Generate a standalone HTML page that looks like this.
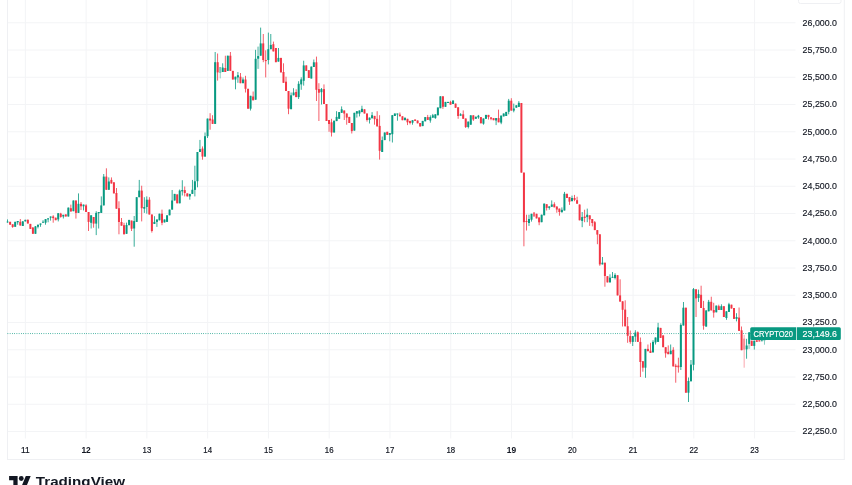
<!DOCTYPE html>
<html lang="en"><head><meta charset="utf-8"><title>CRYPTO20 chart</title>
<style>html,body{margin:0;padding:0;background:#fff;overflow:hidden}body{width:852px;height:485px}svg{display:block;will-change:transform}text{font-family:"Liberation Sans", Arial, sans-serif}</style>
</head><body>
<svg width="852" height="485" viewBox="0 0 852 485">
<rect width="852" height="485" fill="#fff"/>
<path d="M25.35 0V438.5M86.12 0V438.5M146.89 0V438.5M207.66 0V438.5M268.43 0V438.5M329.20 0V438.5M389.97 0V438.5M450.74 0V438.5M511.51 0V438.5M572.28 0V438.5M633.05 0V438.5M693.82 0V438.5M754.59 0V438.5M7.5 22.75H795.5M7.5 50.00H795.5M7.5 77.25H795.5M7.5 104.50H795.5M7.5 131.75H795.5M7.5 159.00H795.5M7.5 186.25H795.5M7.5 213.50H795.5M7.5 240.75H795.5M7.5 268.00H795.5M7.5 295.25H795.5M7.5 322.50H795.5M7.5 349.75H795.5M7.5 377.00H795.5M7.5 404.25H795.5M7.5 431.50H795.5" stroke="#f3f4f6" stroke-width="1" fill="none"/>
<path d="M7.5 0V459.5M7 459.5H844.8M844.3 0V459.5" stroke="#eff0f3" stroke-width="1" fill="none"/>
<rect x="798.5" y="-6" width="42.5" height="9.5" rx="2" fill="#fff" stroke="#eff0f3" stroke-width="1"/>
<path d="M7.5 333.55H796" stroke="#089981" stroke-width="0.9" stroke-dasharray="0.75 1.5" fill="none"/>
<g fill="#089981"><rect x="7.20" y="219.40" width="0.80" height="3.30"/><rect x="6.60" y="221.60" width="2.00" height="0.80"/></g>
<g fill="#f23645"><rect x="9.73" y="221.80" width="0.80" height="2.90"/><rect x="9.13" y="221.80" width="2.00" height="2.90"/></g>
<g fill="#f23645"><rect x="12.26" y="224.30" width="0.80" height="3.50"/><rect x="11.66" y="224.30" width="2.00" height="2.70"/></g>
<g fill="#089981"><rect x="14.79" y="221.80" width="0.80" height="5.00"/><rect x="14.19" y="221.80" width="2.00" height="5.00"/></g>
<g fill="#089981"><rect x="17.32" y="221.00" width="0.80" height="3.70"/><rect x="16.72" y="221.00" width="2.00" height="1.30"/></g>
<g fill="#f23645"><rect x="19.86" y="219.00" width="0.80" height="6.50"/><rect x="19.26" y="221.80" width="2.00" height="3.70"/></g>
<g fill="#089981"><rect x="22.39" y="221.00" width="0.80" height="5.00"/><rect x="21.79" y="221.40" width="2.00" height="4.60"/></g>
<g fill="#089981"><rect x="24.92" y="219.80" width="0.80" height="1.60"/><rect x="24.32" y="219.80" width="2.00" height="1.60"/></g>
<g fill="#f23645"><rect x="27.45" y="219.50" width="0.80" height="4.00"/><rect x="26.85" y="219.80" width="2.00" height="3.70"/></g>
<g fill="#f23645"><rect x="29.98" y="223.90" width="0.80" height="5.00"/><rect x="29.38" y="223.90" width="2.00" height="5.00"/></g>
<g fill="#f23645"><rect x="32.51" y="227.00" width="0.80" height="6.80"/><rect x="31.91" y="227.60" width="2.00" height="6.20"/></g>
<g fill="#089981"><rect x="35.04" y="226.00" width="0.80" height="7.80"/><rect x="34.44" y="226.40" width="2.00" height="7.40"/></g>
<g fill="#089981"><rect x="37.57" y="224.70" width="0.80" height="3.70"/><rect x="36.97" y="224.70" width="2.00" height="2.10"/></g>
<g fill="#089981"><rect x="40.10" y="223.50" width="0.80" height="3.30"/><rect x="39.50" y="223.50" width="2.00" height="1.20"/></g>
<g fill="#089981"><rect x="42.63" y="220.20" width="0.80" height="2.50"/><rect x="42.03" y="221.80" width="2.00" height="0.90"/></g>
<g fill="#089981"><rect x="45.17" y="219.10" width="0.80" height="5.60"/><rect x="44.57" y="219.10" width="2.00" height="3.60"/></g>
<g fill="#089981"><rect x="47.70" y="218.30" width="0.80" height="4.00"/><rect x="47.10" y="218.30" width="2.00" height="1.10"/></g>
<g fill="#089981"><rect x="50.23" y="216.50" width="0.80" height="4.10"/><rect x="49.63" y="216.50" width="2.00" height="1.20"/></g>
<g fill="#f23645"><rect x="52.76" y="215.20" width="0.80" height="7.50"/><rect x="52.16" y="216.50" width="2.00" height="1.60"/></g>
<g fill="#f23645"><rect x="55.29" y="217.70" width="0.80" height="2.50"/><rect x="54.69" y="217.70" width="2.00" height="2.50"/></g>
<g fill="#089981"><rect x="57.82" y="213.20" width="0.80" height="8.20"/><rect x="57.22" y="213.20" width="2.00" height="6.20"/></g>
<g fill="#f23645"><rect x="60.35" y="212.80" width="0.80" height="4.90"/><rect x="59.75" y="213.60" width="2.00" height="3.30"/></g>
<g fill="#089981"><rect x="62.88" y="214.80" width="0.80" height="3.70"/><rect x="62.28" y="214.80" width="2.00" height="1.70"/></g>
<g fill="#f23645"><rect x="65.41" y="214.40" width="0.80" height="2.10"/><rect x="64.81" y="214.40" width="2.00" height="2.10"/></g>
<g fill="#089981"><rect x="67.94" y="207.60" width="0.80" height="8.90"/><rect x="67.34" y="207.60" width="2.00" height="8.90"/></g>
<g fill="#f23645"><rect x="70.47" y="204.60" width="0.80" height="6.90"/><rect x="69.88" y="208.20" width="2.00" height="3.30"/></g>
<g fill="#089981"><rect x="73.01" y="200.50" width="0.80" height="10.70"/><rect x="72.41" y="200.50" width="2.00" height="10.70"/></g>
<g fill="#f23645"><rect x="75.54" y="200.50" width="0.80" height="18.10"/><rect x="74.94" y="200.50" width="2.00" height="12.40"/></g>
<g fill="#089981"><rect x="78.07" y="193.40" width="0.80" height="19.50"/><rect x="77.47" y="203.80" width="2.00" height="9.10"/></g>
<g fill="#f23645"><rect x="80.60" y="202.00" width="0.80" height="8.00"/><rect x="80.00" y="203.80" width="2.00" height="2.50"/></g>
<g fill="#089981"><rect x="83.13" y="204.60" width="0.80" height="5.80"/><rect x="82.53" y="204.60" width="2.00" height="1.70"/></g>
<g fill="#f23645"><rect x="85.66" y="204.20" width="0.80" height="7.80"/><rect x="85.06" y="205.40" width="2.00" height="6.60"/></g>
<g fill="#f23645"><rect x="88.19" y="212.00" width="0.80" height="19.00"/><rect x="87.59" y="212.00" width="2.00" height="9.90"/></g>
<g fill="#089981"><rect x="90.72" y="215.30" width="0.80" height="13.20"/><rect x="90.12" y="215.30" width="2.00" height="7.50"/></g>
<g fill="#f23645"><rect x="93.25" y="217.00" width="0.80" height="10.70"/><rect x="92.65" y="217.00" width="2.00" height="6.60"/></g>
<g fill="#089981"><rect x="95.78" y="211.20" width="0.80" height="23.90"/><rect x="95.19" y="212.90" width="2.00" height="10.70"/></g>
<g fill="#089981"><rect x="98.32" y="212.00" width="0.80" height="16.50"/><rect x="97.72" y="212.00" width="2.00" height="1.20"/></g>
<g fill="#089981"><rect x="100.85" y="196.40" width="0.80" height="16.50"/><rect x="100.25" y="205.40" width="2.00" height="7.50"/></g>
<g fill="#089981"><rect x="103.38" y="174.00" width="0.80" height="31.40"/><rect x="102.78" y="176.60" width="2.00" height="28.80"/></g>
<g fill="#f23645"><rect x="105.91" y="168.30" width="0.80" height="21.50"/><rect x="105.31" y="176.60" width="2.00" height="13.20"/></g>
<g fill="#089981"><rect x="108.44" y="177.40" width="0.80" height="12.40"/><rect x="107.84" y="181.50" width="2.00" height="8.30"/></g>
<g fill="#f23645"><rect x="110.97" y="177.40" width="0.80" height="6.10"/><rect x="110.37" y="179.90" width="2.00" height="3.60"/></g>
<g fill="#f23645"><rect x="113.50" y="182.30" width="0.80" height="11.10"/><rect x="112.90" y="182.30" width="2.00" height="11.10"/></g>
<g fill="#f23645"><rect x="116.03" y="188.00" width="0.80" height="20.70"/><rect x="115.43" y="193.00" width="2.00" height="15.70"/></g>
<g fill="#f23645"><rect x="118.56" y="201.30" width="0.80" height="33.00"/><rect x="117.96" y="208.20" width="2.00" height="13.80"/></g>
<g fill="#f23645"><rect x="121.09" y="218.00" width="0.80" height="7.70"/><rect x="120.50" y="222.00" width="2.00" height="3.70"/></g>
<g fill="#f23645"><rect x="123.63" y="222.80" width="0.80" height="11.50"/><rect x="123.03" y="225.20" width="2.00" height="9.10"/></g>
<g fill="#089981"><rect x="126.16" y="222.60" width="0.80" height="11.20"/><rect x="125.56" y="225.00" width="2.00" height="8.80"/></g>
<g fill="#089981"><rect x="128.69" y="219.90" width="0.80" height="5.30"/><rect x="128.09" y="219.90" width="2.00" height="5.30"/></g>
<g fill="#f23645"><rect x="131.22" y="220.60" width="0.80" height="10.40"/><rect x="130.62" y="220.60" width="2.00" height="8.10"/></g>
<g fill="#089981"><rect x="133.75" y="216.00" width="0.80" height="30.70"/><rect x="133.15" y="221.10" width="2.00" height="7.40"/></g>
<g fill="#089981"><rect x="136.28" y="197.20" width="0.80" height="24.70"/><rect x="135.68" y="197.20" width="2.00" height="24.70"/></g>
<g fill="#089981"><rect x="138.81" y="179.90" width="0.80" height="17.30"/><rect x="138.21" y="190.60" width="2.00" height="6.60"/></g>
<g fill="#f23645"><rect x="141.34" y="185.70" width="0.80" height="35.70"/><rect x="140.74" y="190.60" width="2.00" height="17.60"/></g>
<g fill="#089981"><rect x="143.87" y="197.20" width="0.80" height="15.70"/><rect x="143.27" y="207.00" width="2.00" height="1.70"/></g>
<g fill="#089981"><rect x="146.41" y="196.40" width="0.80" height="17.30"/><rect x="145.81" y="199.70" width="2.00" height="7.30"/></g>
<g fill="#f23645"><rect x="148.94" y="197.20" width="0.80" height="17.30"/><rect x="148.34" y="199.70" width="2.00" height="14.80"/></g>
<g fill="#f23645"><rect x="151.47" y="214.50" width="0.80" height="18.10"/><rect x="150.87" y="214.50" width="2.00" height="16.50"/></g>
<g fill="#089981"><rect x="154.00" y="216.20" width="0.80" height="7.80"/><rect x="153.40" y="221.90" width="2.00" height="2.10"/></g>
<g fill="#089981"><rect x="156.53" y="219.50" width="0.80" height="7.40"/><rect x="155.93" y="219.50" width="2.00" height="2.40"/></g>
<g fill="#089981"><rect x="159.06" y="213.70" width="0.80" height="6.60"/><rect x="158.46" y="213.70" width="2.00" height="6.60"/></g>
<g fill="#f23645"><rect x="161.59" y="209.60" width="0.80" height="15.60"/><rect x="160.99" y="213.70" width="2.00" height="9.10"/></g>
<g fill="#089981"><rect x="164.12" y="219.50" width="0.80" height="2.90"/><rect x="163.52" y="219.50" width="2.00" height="2.90"/></g>
<g fill="#089981"><rect x="166.65" y="215.30" width="0.80" height="6.60"/><rect x="166.05" y="215.30" width="2.00" height="6.60"/></g>
<g fill="#089981"><rect x="169.18" y="209.60" width="0.80" height="5.70"/><rect x="168.58" y="209.60" width="2.00" height="5.70"/></g>
<g fill="#089981"><rect x="171.72" y="190.00" width="0.80" height="19.60"/><rect x="171.12" y="200.50" width="2.00" height="9.10"/></g>
<g fill="#089981"><rect x="174.25" y="193.90" width="0.80" height="6.60"/><rect x="173.65" y="193.90" width="2.00" height="6.60"/></g>
<g fill="#f23645"><rect x="176.78" y="194.40" width="0.80" height="8.90"/><rect x="176.18" y="194.40" width="2.00" height="8.90"/></g>
<g fill="#089981"><rect x="179.31" y="189.50" width="0.80" height="13.80"/><rect x="178.71" y="190.60" width="2.00" height="12.70"/></g>
<g fill="#089981"><rect x="181.84" y="180.20" width="0.80" height="15.30"/><rect x="181.24" y="190.00" width="2.00" height="1.40"/></g>
<g fill="#f23645"><rect x="184.37" y="186.50" width="0.80" height="9.90"/><rect x="183.77" y="190.10" width="2.00" height="2.90"/></g>
<g fill="#f23645"><rect x="186.90" y="193.40" width="0.80" height="3.00"/><rect x="186.30" y="193.40" width="2.00" height="3.00"/></g>
<g fill="#089981"><rect x="189.43" y="193.90" width="0.80" height="5.80"/><rect x="188.83" y="193.90" width="2.00" height="2.50"/></g>
<g fill="#089981"><rect x="191.96" y="179.90" width="0.80" height="14.00"/><rect x="191.36" y="189.80" width="2.00" height="4.10"/></g>
<g fill="#089981"><rect x="194.49" y="165.70" width="0.80" height="30.70"/><rect x="193.89" y="181.30" width="2.00" height="8.60"/></g>
<g fill="#089981"><rect x="197.03" y="152.00" width="0.80" height="35.30"/><rect x="196.43" y="152.00" width="2.00" height="29.20"/></g>
<g fill="#089981"><rect x="199.56" y="139.90" width="0.80" height="12.10"/><rect x="198.96" y="149.20" width="2.00" height="2.80"/></g>
<g fill="#f23645"><rect x="202.09" y="146.40" width="0.80" height="13.30"/><rect x="201.49" y="148.60" width="2.00" height="8.00"/></g>
<g fill="#089981"><rect x="204.62" y="132.50" width="0.80" height="24.10"/><rect x="204.02" y="136.20" width="2.00" height="20.40"/></g>
<g fill="#089981"><rect x="207.15" y="118.60" width="0.80" height="19.40"/><rect x="206.55" y="118.60" width="2.00" height="17.60"/></g>
<g fill="#f23645"><rect x="209.68" y="113.20" width="0.80" height="16.50"/><rect x="209.08" y="118.60" width="2.00" height="1.90"/></g>
<g fill="#f23645"><rect x="212.21" y="115.20" width="0.80" height="8.70"/><rect x="211.61" y="119.50" width="2.00" height="4.40"/></g>
<g fill="#089981"><rect x="214.74" y="52.00" width="0.80" height="71.90"/><rect x="214.14" y="62.20" width="2.00" height="61.70"/></g>
<g fill="#f23645"><rect x="217.27" y="53.50" width="0.80" height="27.10"/><rect x="216.67" y="62.20" width="2.00" height="10.20"/></g>
<g fill="#089981" opacity="0.55"><rect x="219.80" y="67.00" width="0.80" height="11.40"/><rect x="219.20" y="67.00" width="2.00" height="6.00"/></g>
<g fill="#089981"><rect x="222.34" y="63.30" width="0.80" height="8.70"/><rect x="221.74" y="67.60" width="2.00" height="4.40"/></g>
<g fill="#f23645"><rect x="224.87" y="55.70" width="0.80" height="16.30"/><rect x="224.27" y="68.00" width="2.00" height="4.00"/></g>
<g fill="#089981"><rect x="227.40" y="55.70" width="0.80" height="15.20"/><rect x="226.80" y="55.70" width="2.00" height="15.20"/></g>
<g fill="#f23645"><rect x="229.93" y="52.00" width="0.80" height="18.90"/><rect x="229.33" y="55.70" width="2.00" height="15.20"/></g>
<g fill="#f23645"><rect x="232.46" y="70.90" width="0.80" height="8.60"/><rect x="231.86" y="70.90" width="2.00" height="8.60"/></g>
<g fill="#089981"><rect x="234.99" y="76.70" width="0.80" height="12.60"/><rect x="234.39" y="76.70" width="2.00" height="2.80"/></g>
<g fill="#089981"><rect x="237.52" y="72.00" width="0.80" height="10.80"/><rect x="236.92" y="75.20" width="2.00" height="2.20"/></g>
<g fill="#f23645"><rect x="240.05" y="73.00" width="0.80" height="10.20"/><rect x="239.45" y="76.70" width="2.00" height="6.50"/></g>
<g fill="#089981"><rect x="242.58" y="77.40" width="0.80" height="5.80"/><rect x="241.98" y="79.50" width="2.00" height="3.70"/></g>
<g fill="#f23645"><rect x="245.11" y="75.80" width="0.80" height="16.70"/><rect x="244.51" y="79.50" width="2.00" height="9.30"/></g>
<g fill="#f23645"><rect x="247.65" y="88.80" width="0.80" height="19.90"/><rect x="247.05" y="88.80" width="2.00" height="19.90"/></g>
<g fill="#089981"><rect x="250.18" y="95.80" width="0.80" height="14.70"/><rect x="249.58" y="95.80" width="2.00" height="12.90"/></g>
<g fill="#f23645"><rect x="252.71" y="91.50" width="0.80" height="8.80"/><rect x="252.11" y="96.50" width="2.00" height="3.80"/></g>
<g fill="#089981"><rect x="255.24" y="49.80" width="0.80" height="49.90"/><rect x="254.64" y="58.80" width="2.00" height="40.90"/></g>
<g fill="#089981"><rect x="257.77" y="56.10" width="0.80" height="2.50"/><rect x="257.17" y="56.10" width="2.00" height="2.50"/></g>
<g fill="#089981" opacity="0.40"><rect x="257.77" y="46.70" width="0.80" height="22.10"/><rect x="257.17" y="46.70" width="2.00" height="22.10"/></g>
<g fill="#089981"><rect x="260.30" y="27.60" width="0.80" height="28.10"/><rect x="259.70" y="43.40" width="2.00" height="12.30"/></g>
<g fill="#f23645"><rect x="262.83" y="34.00" width="0.80" height="28.20"/><rect x="262.23" y="43.40" width="2.00" height="16.60"/></g>
<g fill="#f23645"><rect x="265.36" y="50.30" width="0.80" height="27.10"/><rect x="264.76" y="60.00" width="2.00" height="1.10"/></g>
<g fill="#089981"><rect x="267.89" y="32.60" width="0.80" height="31.80"/><rect x="267.29" y="49.20" width="2.00" height="10.80"/></g>
<g fill="#089981"><rect x="270.42" y="34.00" width="0.80" height="15.20"/><rect x="269.82" y="44.90" width="2.00" height="4.30"/></g>
<g fill="#f23645"><rect x="272.96" y="41.60" width="0.80" height="9.80"/><rect x="272.36" y="44.20" width="2.00" height="7.20"/></g>
<g fill="#f23645"><rect x="275.49" y="48.00" width="0.80" height="14.20"/><rect x="274.89" y="48.00" width="2.00" height="14.20"/></g>
<g fill="#089981"><rect x="278.02" y="48.00" width="0.80" height="13.60"/><rect x="277.42" y="57.90" width="2.00" height="3.70"/></g>
<g fill="#f23645"><rect x="280.55" y="57.90" width="0.80" height="14.50"/><rect x="279.95" y="57.90" width="2.00" height="14.50"/></g>
<g fill="#f23645"><rect x="283.08" y="63.30" width="0.80" height="19.50"/><rect x="282.48" y="72.00" width="2.00" height="10.80"/></g>
<g fill="#f23645"><rect x="285.61" y="76.70" width="0.80" height="14.30"/><rect x="285.01" y="81.70" width="2.00" height="9.30"/></g>
<g fill="#f23645"><rect x="288.14" y="91.00" width="0.80" height="23.20"/><rect x="287.54" y="91.00" width="2.00" height="17.70"/></g>
<g fill="#089981"><rect x="290.67" y="92.50" width="0.80" height="16.70"/><rect x="290.07" y="95.30" width="2.00" height="13.90"/></g>
<g fill="#089981"><rect x="293.20" y="88.20" width="0.80" height="7.10"/><rect x="292.60" y="92.50" width="2.00" height="2.80"/></g>
<g fill="#f23645"><rect x="295.73" y="89.30" width="0.80" height="7.80"/><rect x="295.13" y="92.00" width="2.00" height="5.10"/></g>
<g fill="#089981"><rect x="298.27" y="81.20" width="0.80" height="17.80"/><rect x="297.67" y="83.80" width="2.00" height="13.30"/></g>
<g fill="#089981"><rect x="300.80" y="77.30" width="0.80" height="12.50"/><rect x="300.20" y="79.40" width="2.00" height="5.00"/></g>
<g fill="#089981"><rect x="303.33" y="60.70" width="0.80" height="24.90"/><rect x="302.73" y="65.40" width="2.00" height="15.40"/></g>
<g fill="#f23645"><rect x="305.86" y="65.40" width="0.80" height="5.50"/><rect x="305.26" y="65.40" width="2.00" height="5.50"/></g>
<g fill="#f23645"><rect x="308.39" y="70.20" width="0.80" height="7.80"/><rect x="307.79" y="70.20" width="2.00" height="7.80"/></g>
<g fill="#089981"><rect x="310.92" y="66.60" width="0.80" height="11.90"/><rect x="310.32" y="66.60" width="2.00" height="11.90"/></g>
<g fill="#089981"><rect x="313.45" y="59.50" width="0.80" height="7.50"/><rect x="312.85" y="62.30" width="2.00" height="4.70"/></g>
<g fill="#f23645"><rect x="315.98" y="56.60" width="0.80" height="44.40"/><rect x="315.38" y="62.30" width="2.00" height="27.50"/></g>
<g fill="#f23645"><rect x="318.51" y="83.20" width="0.80" height="37.80"/><rect x="317.91" y="89.10" width="2.00" height="3.60"/></g>
<g fill="#089981"><rect x="321.04" y="88.00" width="0.80" height="16.50"/><rect x="320.44" y="89.10" width="2.00" height="3.10"/></g>
<g fill="#f23645"><rect x="323.58" y="84.40" width="0.80" height="19.60"/><rect x="322.98" y="89.10" width="2.00" height="14.90"/></g>
<g fill="#f23645"><rect x="326.11" y="104.00" width="0.80" height="17.00"/><rect x="325.51" y="104.00" width="2.00" height="17.00"/></g>
<g fill="#f23645"><rect x="328.64" y="120.00" width="0.80" height="11.80"/><rect x="328.04" y="120.00" width="2.00" height="4.00"/></g>
<g fill="#f23645"><rect x="331.17" y="118.80" width="0.80" height="17.70"/><rect x="330.57" y="122.30" width="2.00" height="10.20"/></g>
<g fill="#089981"><rect x="333.70" y="120.70" width="0.80" height="11.80"/><rect x="333.10" y="120.70" width="2.00" height="11.80"/></g>
<g fill="#089981"><rect x="336.23" y="111.20" width="0.80" height="9.90"/><rect x="335.63" y="116.90" width="2.00" height="4.20"/></g>
<g fill="#089981"><rect x="338.76" y="112.10" width="0.80" height="6.70"/><rect x="338.16" y="112.10" width="2.00" height="6.70"/></g>
<g fill="#089981"><rect x="341.29" y="106.40" width="0.80" height="6.40"/><rect x="340.69" y="109.30" width="2.00" height="3.50"/></g>
<g fill="#f23645"><rect x="343.82" y="110.50" width="0.80" height="9.50"/><rect x="343.22" y="110.50" width="2.00" height="3.00"/></g>
<g fill="#f23645"><rect x="346.35" y="113.50" width="0.80" height="11.20"/><rect x="345.75" y="113.50" width="2.00" height="4.10"/></g>
<g fill="#f23645"><rect x="348.89" y="116.90" width="0.80" height="6.10"/><rect x="348.29" y="116.90" width="2.00" height="6.10"/></g>
<g fill="#f23645"><rect x="351.42" y="123.00" width="0.80" height="10.50"/><rect x="350.82" y="123.00" width="2.00" height="8.10"/></g>
<g fill="#089981"><rect x="353.95" y="112.80" width="0.80" height="17.80"/><rect x="353.35" y="112.80" width="2.00" height="17.80"/></g>
<g fill="#089981"><rect x="356.48" y="111.20" width="0.80" height="6.40"/><rect x="355.88" y="111.20" width="2.00" height="2.40"/></g>
<g fill="#089981"><rect x="359.01" y="110.50" width="0.80" height="5.90"/><rect x="358.41" y="110.50" width="2.00" height="3.10"/></g>
<g fill="#089981"><rect x="361.54" y="105.70" width="0.80" height="6.40"/><rect x="360.94" y="108.80" width="2.00" height="3.30"/></g>
<g fill="#f23645"><rect x="364.07" y="109.30" width="0.80" height="4.20"/><rect x="363.47" y="109.30" width="2.00" height="4.20"/></g>
<g fill="#f23645"><rect x="366.60" y="113.50" width="0.80" height="8.10"/><rect x="366.00" y="113.50" width="2.00" height="6.50"/></g>
<g fill="#089981"><rect x="369.13" y="117.60" width="0.80" height="5.90"/><rect x="368.53" y="117.60" width="2.00" height="2.40"/></g>
<g fill="#089981"><rect x="371.66" y="112.10" width="0.80" height="6.20"/><rect x="371.06" y="115.20" width="2.00" height="3.10"/></g>
<g fill="#f23645"><rect x="374.20" y="115.90" width="0.80" height="8.80"/><rect x="373.60" y="115.90" width="2.00" height="3.30"/></g>
<g fill="#f23645"><rect x="376.73" y="111.20" width="0.80" height="15.20"/><rect x="376.13" y="118.80" width="2.00" height="7.60"/></g>
<g fill="#f23645"><rect x="379.26" y="115.20" width="0.80" height="44.40"/><rect x="378.66" y="125.90" width="2.00" height="24.90"/></g>
<g fill="#089981"><rect x="381.79" y="136.50" width="0.80" height="15.50"/><rect x="381.19" y="140.10" width="2.00" height="11.90"/></g>
<g fill="#089981"><rect x="384.32" y="132.50" width="0.80" height="7.60"/><rect x="383.72" y="132.50" width="2.00" height="7.60"/></g>
<g fill="#f23645"><rect x="386.85" y="131.80" width="0.80" height="3.10"/><rect x="386.25" y="131.80" width="2.00" height="3.10"/></g>
<g fill="#089981"><rect x="389.38" y="133.00" width="0.80" height="8.30"/><rect x="388.78" y="133.00" width="2.00" height="1.90"/></g>
<g fill="#089981"><rect x="391.91" y="115.20" width="0.80" height="27.30"/><rect x="391.31" y="115.20" width="2.00" height="19.00"/></g>
<g fill="#089981"><rect x="394.44" y="113.50" width="0.80" height="2.50"/><rect x="393.84" y="113.50" width="2.00" height="2.50"/></g>
<g fill="#089981"><rect x="396.97" y="113.50" width="0.80" height="7.20"/><rect x="396.37" y="113.50" width="2.00" height="1.00"/></g>
<g fill="#f23645"><rect x="399.51" y="112.50" width="0.80" height="3.80"/><rect x="398.91" y="114.60" width="2.00" height="1.70"/></g>
<g fill="#f23645"><rect x="402.04" y="116.30" width="0.80" height="3.90"/><rect x="401.44" y="116.30" width="2.00" height="3.90"/></g>
<g fill="#089981"><rect x="404.57" y="117.70" width="0.80" height="2.50"/><rect x="403.97" y="117.70" width="2.00" height="2.50"/></g>
<g fill="#f23645"><rect x="407.10" y="118.80" width="0.80" height="6.30"/><rect x="406.50" y="118.80" width="2.00" height="3.50"/></g>
<g fill="#f23645"><rect x="409.63" y="120.90" width="0.80" height="3.50"/><rect x="409.03" y="120.90" width="2.00" height="2.10"/></g>
<g fill="#089981"><rect x="412.16" y="120.20" width="0.80" height="4.50"/><rect x="411.56" y="120.20" width="2.00" height="2.50"/></g>
<g fill="#f23645"><rect x="414.69" y="119.50" width="0.80" height="1.40"/><rect x="414.09" y="119.50" width="2.00" height="1.40"/></g>
<g fill="#f23645"><rect x="417.22" y="120.50" width="0.80" height="2.80"/><rect x="416.62" y="120.50" width="2.00" height="2.80"/></g>
<g fill="#f23645"><rect x="419.75" y="123.00" width="0.80" height="3.50"/><rect x="419.15" y="123.00" width="2.00" height="3.50"/></g>
<g fill="#089981"><rect x="422.28" y="120.90" width="0.80" height="5.20"/><rect x="421.68" y="120.90" width="2.00" height="5.20"/></g>
<g fill="#089981"><rect x="424.82" y="117.10" width="0.80" height="4.20"/><rect x="424.22" y="117.10" width="2.00" height="4.20"/></g>
<g fill="#f23645"><rect x="427.35" y="114.90" width="0.80" height="5.00"/><rect x="426.75" y="117.10" width="2.00" height="2.80"/></g>
<g fill="#089981"><rect x="429.88" y="115.30" width="0.80" height="7.40"/><rect x="429.28" y="117.10" width="2.00" height="3.40"/></g>
<g fill="#089981"><rect x="432.41" y="113.90" width="0.80" height="3.80"/><rect x="431.81" y="115.30" width="2.00" height="2.40"/></g>
<g fill="#089981"><rect x="434.94" y="114.30" width="0.80" height="4.50"/><rect x="434.34" y="114.30" width="2.00" height="3.80"/></g>
<g fill="#089981"><rect x="437.47" y="107.50" width="0.80" height="7.80"/><rect x="436.87" y="107.50" width="2.00" height="7.80"/></g>
<g fill="#089981"><rect x="440.00" y="96.30" width="0.80" height="11.90"/><rect x="439.40" y="96.30" width="2.00" height="11.90"/></g>
<g fill="#f23645"><rect x="442.53" y="96.30" width="0.80" height="12.60"/><rect x="441.93" y="96.30" width="2.00" height="10.50"/></g>
<g fill="#089981"><rect x="445.06" y="101.90" width="0.80" height="4.90"/><rect x="444.46" y="101.90" width="2.00" height="4.90"/></g>
<g fill="#089981"><rect x="447.59" y="101.90" width="0.80" height="1.10"/><rect x="446.99" y="101.90" width="2.00" height="1.10"/></g>
<g fill="#f23645"><rect x="450.13" y="100.80" width="0.80" height="3.90"/><rect x="449.53" y="101.90" width="2.00" height="2.80"/></g>
<g fill="#089981"><rect x="452.66" y="100.50" width="0.80" height="3.50"/><rect x="452.06" y="100.50" width="2.00" height="3.50"/></g>
<g fill="#f23645"><rect x="455.19" y="103.60" width="0.80" height="4.20"/><rect x="454.59" y="103.60" width="2.00" height="4.20"/></g>
<g fill="#f23645"><rect x="457.72" y="107.30" width="0.80" height="11.50"/><rect x="457.12" y="107.30" width="2.00" height="8.70"/></g>
<g fill="#089981"><rect x="460.25" y="113.20" width="0.80" height="2.50"/><rect x="459.65" y="114.30" width="2.00" height="1.40"/></g>
<g fill="#f23645"><rect x="462.78" y="110.40" width="0.80" height="8.40"/><rect x="462.18" y="114.30" width="2.00" height="4.50"/></g>
<g fill="#f23645"><rect x="465.31" y="118.50" width="0.80" height="9.50"/><rect x="464.71" y="118.50" width="2.00" height="8.50"/></g>
<g fill="#089981"><rect x="467.84" y="121.60" width="0.80" height="6.80"/><rect x="467.24" y="121.60" width="2.00" height="5.40"/></g>
<g fill="#089981"><rect x="470.37" y="115.30" width="0.80" height="9.40"/><rect x="469.77" y="115.30" width="2.00" height="9.40"/></g>
<g fill="#f23645"><rect x="472.90" y="115.30" width="0.80" height="5.60"/><rect x="472.30" y="115.30" width="2.00" height="4.20"/></g>
<g fill="#089981"><rect x="475.44" y="116.70" width="0.80" height="2.10"/><rect x="474.84" y="116.70" width="2.00" height="2.10"/></g>
<g fill="#089981"><rect x="477.97" y="114.90" width="0.80" height="3.90"/><rect x="477.37" y="115.70" width="2.00" height="1.70"/></g>
<g fill="#f23645"><rect x="480.50" y="117.10" width="0.80" height="6.20"/><rect x="479.90" y="117.10" width="2.00" height="6.20"/></g>
<g fill="#089981"><rect x="483.03" y="118.50" width="0.80" height="6.20"/><rect x="482.43" y="118.50" width="2.00" height="5.20"/></g>
<g fill="#089981"><rect x="485.56" y="114.90" width="0.80" height="3.90"/><rect x="484.96" y="114.90" width="2.00" height="3.90"/></g>
<g fill="#f23645"><rect x="488.09" y="114.90" width="0.80" height="4.60"/><rect x="487.49" y="114.90" width="2.00" height="2.20"/></g>
<g fill="#f23645"><rect x="490.62" y="117.40" width="0.80" height="2.80"/><rect x="490.02" y="117.40" width="2.00" height="1.40"/></g>
<g fill="#f23645"><rect x="493.15" y="118.10" width="0.80" height="2.10"/><rect x="492.55" y="118.10" width="2.00" height="2.10"/></g>
<g fill="#089981"><rect x="495.68" y="118.10" width="0.80" height="7.00"/><rect x="495.08" y="118.10" width="2.00" height="2.40"/></g>
<g fill="#f23645"><rect x="498.21" y="109.60" width="0.80" height="12.70"/><rect x="497.61" y="118.10" width="2.00" height="4.20"/></g>
<g fill="#089981"><rect x="500.75" y="115.60" width="0.80" height="8.60"/><rect x="500.15" y="115.60" width="2.00" height="7.00"/></g>
<g fill="#089981"><rect x="503.28" y="113.50" width="0.80" height="2.90"/><rect x="502.68" y="113.50" width="2.00" height="2.90"/></g>
<g fill="#089981"><rect x="505.81" y="111.90" width="0.80" height="4.10"/><rect x="505.21" y="111.90" width="2.00" height="4.10"/></g>
<g fill="#089981"><rect x="508.34" y="98.90" width="0.80" height="15.40"/><rect x="507.74" y="100.70" width="2.00" height="11.10"/></g>
<g fill="#f23645"><rect x="510.87" y="98.20" width="0.80" height="12.40"/><rect x="510.27" y="100.70" width="2.00" height="9.90"/></g>
<g fill="#089981"><rect x="513.40" y="103.60" width="0.80" height="8.70"/><rect x="512.80" y="108.50" width="2.00" height="2.10"/></g>
<g fill="#089981"><rect x="515.93" y="105.30" width="0.80" height="2.40"/><rect x="515.33" y="105.30" width="2.00" height="2.40"/></g>
<g fill="#089981"><rect x="518.46" y="101.10" width="0.80" height="5.80"/><rect x="517.86" y="102.80" width="2.00" height="4.10"/></g>
<g fill="#f23645"><rect x="520.99" y="103.00" width="0.80" height="69.60"/><rect x="520.39" y="103.00" width="2.00" height="69.60"/></g>
<g fill="#f23645"><rect x="523.52" y="172.60" width="0.80" height="73.70"/><rect x="522.92" y="172.60" width="2.00" height="49.60"/></g>
<g fill="#f23645"><rect x="526.06" y="214.70" width="0.80" height="15.80"/><rect x="525.46" y="221.00" width="2.00" height="1.00"/></g>
<g fill="#089981"><rect x="528.59" y="214.70" width="0.80" height="11.20"/><rect x="527.99" y="219.00" width="2.00" height="4.00"/></g>
<g fill="#089981"><rect x="531.12" y="213.80" width="0.80" height="7.80"/><rect x="530.52" y="213.80" width="2.00" height="5.90"/></g>
<g fill="#f23645" opacity="0.75"><rect x="533.65" y="212.00" width="0.80" height="4.50"/><rect x="533.05" y="212.50" width="2.00" height="4.00"/></g>
<g fill="#f23645"><rect x="536.18" y="213.80" width="0.80" height="4.60"/><rect x="535.58" y="213.80" width="2.00" height="4.60"/></g>
<g fill="#f23645"><rect x="538.71" y="217.50" width="0.80" height="7.70"/><rect x="538.11" y="217.50" width="2.00" height="4.80"/></g>
<g fill="#089981"><rect x="541.24" y="214.70" width="0.80" height="7.50"/><rect x="540.64" y="214.70" width="2.00" height="7.50"/></g>
<g fill="#089981"><rect x="543.77" y="203.60" width="0.80" height="11.70"/><rect x="543.17" y="203.60" width="2.00" height="11.70"/></g>
<g fill="#f23645"><rect x="546.30" y="204.20" width="0.80" height="6.30"/><rect x="545.70" y="204.20" width="2.00" height="3.70"/></g>
<g fill="#089981"><rect x="548.83" y="206.40" width="0.80" height="3.30"/><rect x="548.23" y="206.40" width="2.00" height="1.50"/></g>
<g fill="#089981"><rect x="551.37" y="200.40" width="0.80" height="6.40"/><rect x="550.77" y="204.50" width="2.00" height="2.30"/></g>
<g fill="#f23645"><rect x="553.90" y="202.30" width="0.80" height="5.00"/><rect x="553.30" y="204.20" width="2.00" height="3.10"/></g>
<g fill="#f23645"><rect x="556.43" y="206.50" width="0.80" height="6.20"/><rect x="555.83" y="206.50" width="2.00" height="3.00"/></g>
<g fill="#f23645"><rect x="558.96" y="208.60" width="0.80" height="7.10"/><rect x="558.36" y="208.60" width="2.00" height="3.40"/></g>
<g fill="#089981"><rect x="561.49" y="207.40" width="0.80" height="4.90"/><rect x="560.89" y="209.80" width="2.00" height="2.50"/></g>
<g fill="#089981"><rect x="564.02" y="191.90" width="0.80" height="18.60"/><rect x="563.42" y="193.80" width="2.00" height="16.70"/></g>
<g fill="#f23645"><rect x="566.55" y="193.80" width="0.80" height="4.20"/><rect x="565.95" y="193.80" width="2.00" height="4.20"/></g>
<g fill="#f23645"><rect x="569.08" y="197.10" width="0.80" height="7.80"/><rect x="568.48" y="197.10" width="2.00" height="4.60"/></g>
<g fill="#089981"><rect x="571.61" y="195.60" width="0.80" height="5.60"/><rect x="571.01" y="198.00" width="2.00" height="3.20"/></g>
<g fill="#f23645"><rect x="574.14" y="194.90" width="0.80" height="6.30"/><rect x="573.54" y="198.00" width="2.00" height="1.90"/></g>
<g fill="#f23645"><rect x="576.68" y="196.70" width="0.80" height="7.00"/><rect x="576.08" y="200.20" width="2.00" height="3.50"/></g>
<g fill="#f23645"><rect x="579.21" y="204.50" width="0.80" height="15.80"/><rect x="578.61" y="204.50" width="2.00" height="15.80"/></g>
<g fill="#089981"><rect x="581.74" y="212.00" width="0.80" height="15.20"/><rect x="581.14" y="217.10" width="2.00" height="3.80"/></g>
<g fill="#f23645"><rect x="584.27" y="209.70" width="0.80" height="12.50"/><rect x="583.67" y="216.60" width="2.00" height="1.40"/></g>
<g fill="#089981"><rect x="586.80" y="208.60" width="0.80" height="13.60"/><rect x="586.20" y="214.70" width="2.00" height="2.40"/></g>
<g fill="#f23645"><rect x="589.33" y="215.30" width="0.80" height="10.60"/><rect x="588.73" y="215.30" width="2.00" height="4.10"/></g>
<g fill="#f23645"><rect x="591.86" y="219.00" width="0.80" height="7.40"/><rect x="591.26" y="219.00" width="2.00" height="4.00"/></g>
<g fill="#f23645"><rect x="594.39" y="221.00" width="0.80" height="9.10"/><rect x="593.79" y="222.20" width="2.00" height="7.90"/></g>
<g fill="#f23645"><rect x="596.92" y="230.10" width="0.80" height="14.10"/><rect x="596.32" y="230.10" width="2.00" height="4.50"/></g>
<g fill="#f23645"><rect x="599.45" y="234.30" width="0.80" height="31.50"/><rect x="598.85" y="234.30" width="2.00" height="30.10"/></g>
<g fill="#089981"><rect x="601.99" y="257.00" width="0.80" height="7.40"/><rect x="601.39" y="262.70" width="2.00" height="1.70"/></g>
<g fill="#f23645"><rect x="604.52" y="262.70" width="0.80" height="24.00"/><rect x="603.92" y="262.70" width="2.00" height="13.30"/></g>
<g fill="#f23645"><rect x="607.05" y="276.20" width="0.80" height="6.20"/><rect x="606.45" y="276.20" width="2.00" height="6.20"/></g>
<g fill="#089981"><rect x="609.58" y="274.30" width="0.80" height="8.10"/><rect x="608.98" y="277.70" width="2.00" height="4.70"/></g>
<g fill="#089981"><rect x="612.11" y="272.00" width="0.80" height="5.80"/><rect x="611.51" y="276.80" width="2.00" height="1.00"/></g>
<g fill="#089981"><rect x="614.64" y="273.20" width="0.80" height="6.20"/><rect x="614.04" y="274.90" width="2.00" height="3.10"/></g>
<g fill="#f23645"><rect x="617.17" y="275.20" width="0.80" height="20.20"/><rect x="616.57" y="275.20" width="2.00" height="20.20"/></g>
<g fill="#f23645"><rect x="619.70" y="279.30" width="0.80" height="22.30"/><rect x="619.10" y="295.40" width="2.00" height="6.20"/></g>
<g fill="#f23645"><rect x="622.23" y="301.30" width="0.80" height="25.20"/><rect x="621.63" y="301.30" width="2.00" height="8.50"/></g>
<g fill="#f23645"><rect x="624.76" y="300.30" width="0.80" height="26.00"/><rect x="624.16" y="309.60" width="2.00" height="16.70"/></g>
<g fill="#f23645"><rect x="627.30" y="317.00" width="0.80" height="25.80"/><rect x="626.70" y="326.20" width="2.00" height="9.60"/></g>
<g fill="#f23645"><rect x="629.83" y="330.50" width="0.80" height="13.20"/><rect x="629.23" y="336.10" width="2.00" height="5.80"/></g>
<g fill="#089981"><rect x="632.36" y="336.10" width="0.80" height="9.90"/><rect x="631.76" y="336.10" width="2.00" height="5.80"/></g>
<g fill="#089981"><rect x="634.89" y="330.20" width="0.80" height="11.70"/><rect x="634.29" y="332.60" width="2.00" height="4.00"/></g>
<g fill="#f23645"><rect x="637.42" y="331.40" width="0.80" height="10.50"/><rect x="636.82" y="332.30" width="2.00" height="9.60"/></g>
<g fill="#f23645"><rect x="639.95" y="337.50" width="0.80" height="39.50"/><rect x="639.35" y="341.90" width="2.00" height="20.10"/></g>
<g fill="#f23645"><rect x="642.48" y="361.20" width="0.80" height="10.50"/><rect x="641.88" y="361.20" width="2.00" height="6.50"/></g>
<g fill="#089981"><rect x="645.01" y="348.90" width="0.80" height="28.90"/><rect x="644.41" y="348.90" width="2.00" height="18.80"/></g>
<g fill="#f23645"><rect x="647.54" y="344.50" width="0.80" height="6.70"/><rect x="646.94" y="348.90" width="2.00" height="2.30"/></g>
<g fill="#f23645"><rect x="650.07" y="342.80" width="0.80" height="10.20"/><rect x="649.47" y="350.70" width="2.00" height="2.30"/></g>
<g fill="#089981"><rect x="652.61" y="340.20" width="0.80" height="12.20"/><rect x="652.01" y="341.90" width="2.00" height="10.50"/></g>
<g fill="#089981"><rect x="655.14" y="337.50" width="0.80" height="7.00"/><rect x="654.54" y="337.50" width="2.00" height="4.90"/></g>
<g fill="#089981"><rect x="657.67" y="322.80" width="0.80" height="19.10"/><rect x="657.07" y="327.40" width="2.00" height="14.50"/></g>
<g fill="#f23645"><rect x="660.20" y="327.90" width="0.80" height="10.00"/><rect x="659.60" y="327.90" width="2.00" height="10.00"/></g>
<g fill="#f23645"><rect x="662.73" y="335.40" width="0.80" height="11.80"/><rect x="662.13" y="335.40" width="2.00" height="11.80"/></g>
<g fill="#f23645"><rect x="665.26" y="347.20" width="0.80" height="10.50"/><rect x="664.66" y="347.20" width="2.00" height="6.10"/></g>
<g fill="#f23645"><rect x="667.79" y="345.40" width="0.80" height="8.80"/><rect x="667.19" y="351.90" width="2.00" height="2.30"/></g>
<g fill="#089981"><rect x="670.32" y="344.50" width="0.80" height="9.70"/><rect x="669.72" y="350.70" width="2.00" height="3.50"/></g>
<g fill="#f23645"><rect x="672.85" y="347.20" width="0.80" height="19.20"/><rect x="672.25" y="349.80" width="2.00" height="16.60"/></g>
<g fill="#f23645"><rect x="675.38" y="363.80" width="0.80" height="18.90"/><rect x="674.78" y="365.60" width="2.00" height="1.40"/></g>
<g fill="#f23645"><rect x="677.92" y="357.70" width="0.80" height="14.90"/><rect x="677.32" y="365.60" width="2.00" height="1.70"/></g>
<g fill="#089981"><rect x="680.45" y="323.20" width="0.80" height="46.80"/><rect x="679.85" y="324.90" width="2.00" height="42.10"/></g>
<g fill="#089981"><rect x="682.98" y="302.00" width="0.80" height="23.50"/><rect x="682.38" y="307.70" width="2.00" height="17.80"/></g>
<g fill="#f23645"><rect x="685.51" y="307.70" width="0.80" height="85.00"/><rect x="684.91" y="307.70" width="2.00" height="85.00"/></g>
<g fill="#089981"><rect x="688.04" y="377.50" width="0.80" height="24.50"/><rect x="687.44" y="381.00" width="2.00" height="11.70"/></g>
<g fill="#089981"><rect x="690.57" y="360.00" width="0.80" height="21.30"/><rect x="689.97" y="364.60" width="2.00" height="16.70"/></g>
<g fill="#089981"><rect x="693.10" y="288.00" width="0.80" height="82.40"/><rect x="692.50" y="289.10" width="2.00" height="75.70"/></g>
<g fill="#f23645"><rect x="695.63" y="289.30" width="0.80" height="27.70"/><rect x="695.03" y="289.30" width="2.00" height="9.10"/></g>
<g fill="#089981"><rect x="698.16" y="289.60" width="0.80" height="12.30"/><rect x="697.56" y="294.10" width="2.00" height="3.80"/></g>
<g fill="#f23645"><rect x="700.69" y="285.70" width="0.80" height="22.30"/><rect x="700.09" y="294.80" width="2.00" height="13.20"/></g>
<g fill="#f23645"><rect x="703.23" y="300.90" width="0.80" height="28.80"/><rect x="702.63" y="308.00" width="2.00" height="17.80"/></g>
<g fill="#089981"><rect x="705.76" y="310.40" width="0.80" height="16.20"/><rect x="705.16" y="310.40" width="2.00" height="16.20"/></g>
<g fill="#089981"><rect x="708.29" y="299.90" width="0.80" height="11.40"/><rect x="707.69" y="301.80" width="2.00" height="9.50"/></g>
<g fill="#f23645"><rect x="710.82" y="296.70" width="0.80" height="13.70"/><rect x="710.22" y="301.80" width="2.00" height="8.60"/></g>
<g fill="#f23645"><rect x="713.35" y="302.80" width="0.80" height="14.80"/><rect x="712.75" y="310.00" width="2.00" height="2.60"/></g>
<g fill="#089981"><rect x="715.88" y="305.60" width="0.80" height="6.70"/><rect x="715.28" y="305.60" width="2.00" height="6.70"/></g>
<g fill="#f23645"><rect x="718.41" y="304.70" width="0.80" height="5.30"/><rect x="717.81" y="306.20" width="2.00" height="3.80"/></g>
<g fill="#089981"><rect x="720.94" y="304.30" width="0.80" height="5.70"/><rect x="720.34" y="306.20" width="2.00" height="3.80"/></g>
<g fill="#f23645"><rect x="723.47" y="306.20" width="0.80" height="10.80"/><rect x="722.87" y="306.20" width="2.00" height="10.80"/></g>
<g fill="#089981"><rect x="726.00" y="311.30" width="0.80" height="8.50"/><rect x="725.40" y="311.30" width="2.00" height="6.70"/></g>
<g fill="#089981"><rect x="728.54" y="302.80" width="0.80" height="9.10"/><rect x="727.94" y="304.30" width="2.00" height="7.60"/></g>
<g fill="#f23645"><rect x="731.07" y="304.70" width="0.80" height="3.80"/><rect x="730.47" y="304.70" width="2.00" height="3.80"/></g>
<g fill="#f23645"><rect x="733.60" y="308.00" width="0.80" height="10.90"/><rect x="733.00" y="308.00" width="2.00" height="10.90"/></g>
<g fill="#089981"><rect x="736.13" y="313.20" width="0.80" height="8.20"/><rect x="735.53" y="317.00" width="2.00" height="1.90"/></g>
<g fill="#f23645"><rect x="738.66" y="307.50" width="0.80" height="23.40"/><rect x="738.06" y="317.60" width="2.00" height="13.30"/></g>
<g fill="#f23645"><rect x="741.19" y="326.50" width="0.80" height="23.70"/><rect x="740.59" y="330.30" width="2.00" height="19.90"/></g>
<g fill="#f23645" opacity="0.55"><rect x="743.72" y="335.00" width="0.80" height="32.70"/><rect x="743.12" y="338.60" width="2.00" height="10.90"/></g>
<g fill="#089981"><rect x="746.25" y="338.80" width="0.80" height="19.90"/><rect x="745.65" y="345.50" width="2.00" height="3.80"/></g>
<g fill="#089981"><rect x="748.78" y="332.30" width="0.80" height="11.60"/><rect x="748.18" y="332.30" width="2.00" height="11.60"/></g>
<g fill="#089981" opacity="0.35"><rect x="748.78" y="343.90" width="0.80" height="4.90"/><rect x="748.18" y="343.90" width="2.00" height="4.90"/></g>
<g fill="#f23645"><rect x="751.31" y="340.70" width="0.80" height="5.20"/><rect x="750.71" y="340.70" width="2.00" height="5.20"/></g>
<g fill="#089981"><rect x="753.85" y="340.70" width="0.80" height="8.90"/><rect x="753.25" y="340.70" width="2.00" height="5.20"/></g>
<g fill="#f23645"><rect x="756.38" y="340.30" width="0.80" height="1.50"/><rect x="755.78" y="340.30" width="2.00" height="1.50"/></g>
<g fill="#f23645"><rect x="758.91" y="340.30" width="0.80" height="1.10"/><rect x="758.31" y="340.30" width="2.00" height="1.10"/></g>
<g fill="#089981"><rect x="761.44" y="340.30" width="0.80" height="0.90"/><rect x="760.84" y="340.30" width="2.00" height="0.90"/></g>
<g fill="#089981" opacity="0.60"><rect x="763.97" y="340.30" width="0.80" height="4.40"/><rect x="763.37" y="340.25" width="2.00" height="0.80"/></g>
<text x="802.6" y="25.50" font-size="9.2" fill="#131722" stroke="#131722" stroke-width="0.15" textLength="34.4" lengthAdjust="spacingAndGlyphs">26,000.0</text>
<text x="802.6" y="52.75" font-size="9.2" fill="#131722" stroke="#131722" stroke-width="0.15" textLength="34.4" lengthAdjust="spacingAndGlyphs">25,750.0</text>
<text x="802.6" y="80.00" font-size="9.2" fill="#131722" stroke="#131722" stroke-width="0.15" textLength="34.4" lengthAdjust="spacingAndGlyphs">25,500.0</text>
<text x="802.6" y="107.25" font-size="9.2" fill="#131722" stroke="#131722" stroke-width="0.15" textLength="34.4" lengthAdjust="spacingAndGlyphs">25,250.0</text>
<text x="802.6" y="134.50" font-size="9.2" fill="#131722" stroke="#131722" stroke-width="0.15" textLength="34.4" lengthAdjust="spacingAndGlyphs">25,000.0</text>
<text x="802.6" y="161.75" font-size="9.2" fill="#131722" stroke="#131722" stroke-width="0.15" textLength="34.4" lengthAdjust="spacingAndGlyphs">24,750.0</text>
<text x="802.6" y="189.00" font-size="9.2" fill="#131722" stroke="#131722" stroke-width="0.15" textLength="34.4" lengthAdjust="spacingAndGlyphs">24,500.0</text>
<text x="802.6" y="216.25" font-size="9.2" fill="#131722" stroke="#131722" stroke-width="0.15" textLength="34.4" lengthAdjust="spacingAndGlyphs">24,250.0</text>
<text x="802.6" y="243.50" font-size="9.2" fill="#131722" stroke="#131722" stroke-width="0.15" textLength="34.4" lengthAdjust="spacingAndGlyphs">24,000.0</text>
<text x="802.6" y="270.75" font-size="9.2" fill="#131722" stroke="#131722" stroke-width="0.15" textLength="34.4" lengthAdjust="spacingAndGlyphs">23,750.0</text>
<text x="802.6" y="298.00" font-size="9.2" fill="#131722" stroke="#131722" stroke-width="0.15" textLength="34.4" lengthAdjust="spacingAndGlyphs">23,500.0</text>
<text x="802.6" y="325.25" font-size="9.2" fill="#131722" stroke="#131722" stroke-width="0.15" textLength="34.4" lengthAdjust="spacingAndGlyphs">23,250.0</text>
<text x="802.6" y="352.50" font-size="9.2" fill="#131722" stroke="#131722" stroke-width="0.15" textLength="34.4" lengthAdjust="spacingAndGlyphs">23,000.0</text>
<text x="802.6" y="379.75" font-size="9.2" fill="#131722" stroke="#131722" stroke-width="0.15" textLength="34.4" lengthAdjust="spacingAndGlyphs">22,750.0</text>
<text x="802.6" y="407.00" font-size="9.2" fill="#131722" stroke="#131722" stroke-width="0.15" textLength="34.4" lengthAdjust="spacingAndGlyphs">22,500.0</text>
<text x="802.6" y="434.25" font-size="9.2" fill="#131722" stroke="#131722" stroke-width="0.15" textLength="34.4" lengthAdjust="spacingAndGlyphs">22,250.0</text>
<text x="25.35" y="453" font-size="9" fill="#131722" text-anchor="middle" textLength="8.7" lengthAdjust="spacingAndGlyphs" stroke="#131722" stroke-width="0.2">11</text>
<text x="86.12" y="453" font-size="9" fill="#131722" text-anchor="middle" textLength="9.4" lengthAdjust="spacingAndGlyphs" font-weight="bold">12</text>
<text x="146.89" y="453" font-size="9" fill="#131722" text-anchor="middle" textLength="8.7" lengthAdjust="spacingAndGlyphs" stroke="#131722" stroke-width="0.2">13</text>
<text x="207.66" y="453" font-size="9" fill="#131722" text-anchor="middle" textLength="8.7" lengthAdjust="spacingAndGlyphs" stroke="#131722" stroke-width="0.2">14</text>
<text x="268.43" y="453" font-size="9" fill="#131722" text-anchor="middle" textLength="8.7" lengthAdjust="spacingAndGlyphs" stroke="#131722" stroke-width="0.2">15</text>
<text x="329.20" y="453" font-size="9" fill="#131722" text-anchor="middle" textLength="8.7" lengthAdjust="spacingAndGlyphs" stroke="#131722" stroke-width="0.2">16</text>
<text x="389.97" y="453" font-size="9" fill="#131722" text-anchor="middle" textLength="8.7" lengthAdjust="spacingAndGlyphs" stroke="#131722" stroke-width="0.2">17</text>
<text x="450.74" y="453" font-size="9" fill="#131722" text-anchor="middle" textLength="8.7" lengthAdjust="spacingAndGlyphs" stroke="#131722" stroke-width="0.2">18</text>
<text x="511.51" y="453" font-size="9" fill="#131722" text-anchor="middle" textLength="9.4" lengthAdjust="spacingAndGlyphs" font-weight="bold">19</text>
<text x="572.28" y="453" font-size="9" fill="#131722" text-anchor="middle" textLength="8.7" lengthAdjust="spacingAndGlyphs" stroke="#131722" stroke-width="0.2">20</text>
<text x="633.05" y="453" font-size="9" fill="#131722" text-anchor="middle" textLength="8.7" lengthAdjust="spacingAndGlyphs" stroke="#131722" stroke-width="0.2">21</text>
<text x="693.82" y="453" font-size="9" fill="#131722" text-anchor="middle" textLength="8.7" lengthAdjust="spacingAndGlyphs" stroke="#131722" stroke-width="0.2">22</text>
<text x="754.59" y="453" font-size="9" fill="#131722" text-anchor="middle" textLength="8.7" lengthAdjust="spacingAndGlyphs" stroke="#131722" stroke-width="0.2">23</text>
<path d="M751.7 327.2H796.1V339.9H751.7a1.5 1.5 0 0 1-1.5-1.5V328.7a1.5 1.5 0 0 1 1.5-1.5z" fill="#089981"/>
<path d="M796.8 327.2H839.3a1.5 1.5 0 0 1 1.5 1.5V338.4a1.5 1.5 0 0 1-1.5 1.5H796.8z" fill="#089981"/>
<text x="753.5" y="337.1" font-size="8.5" fill="#fff" stroke="#fff" stroke-width="0.2" textLength="39.5" lengthAdjust="spacingAndGlyphs">CRYPTO20</text>
<text x="802.6" y="336.7" font-size="9.2" fill="#fff" stroke="#fff" stroke-width="0.15" textLength="34.4" lengthAdjust="spacingAndGlyphs">23,149.6</text>
<g transform="translate(9.1 473.67) scale(0.608)" fill="#131722"><path d="M14 22H7V11H0V4h14v18zM28 22h-8l7.5-18h8L28 22z"/><circle cx="20" cy="8" r="4"/></g>
<text x="35.8" y="485.9" font-size="13.6" font-weight="bold" fill="#131722" textLength="89.2" lengthAdjust="spacingAndGlyphs">TradingView</text>
</svg></body></html>
